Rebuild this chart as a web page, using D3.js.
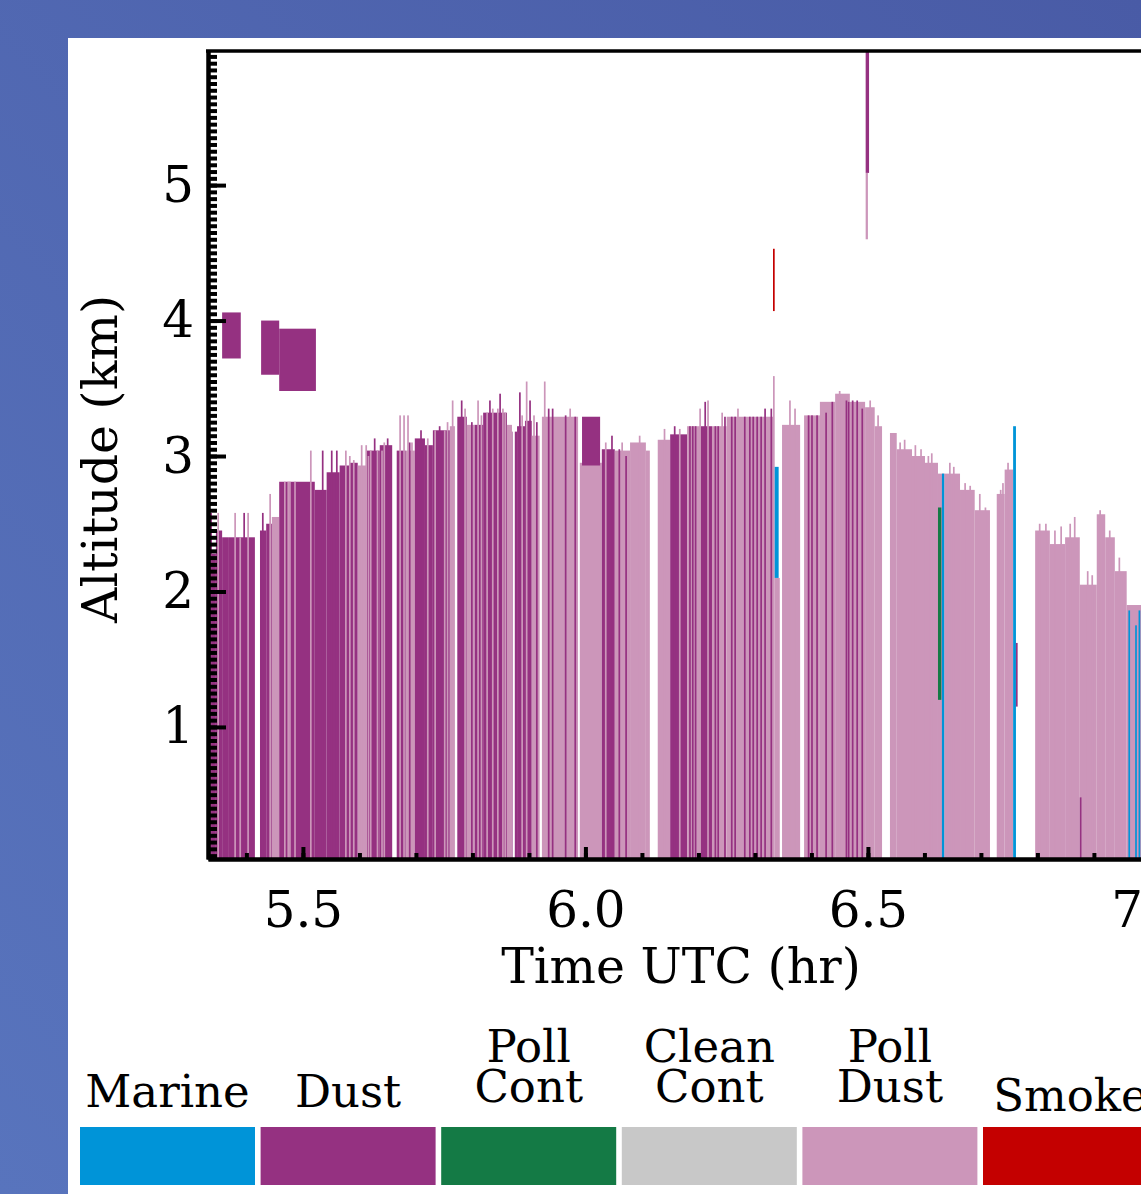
<!DOCTYPE html>
<html>
<head>
<meta charset="utf-8">
<script src="https://cdn.jsdelivr.net/npm/d3@7"></script>
<style>
  body { margin: 0; overflow: hidden; }
  text { font-family: "DejaVu Serif", serif; fill: #000; }
</style>
</head>
<body>
<div class="canva"></div>
<script>
// aerosol types, legend order
const typeNames = [["Marine"], ["Dust"], ["Poll", "Cont"], ["Clean", "Cont"], ["Poll", "Dust"], ["Smoke"]];
const typeColors = ["#0094d8", "#953181", "#147a45", "#c8c8c8", "#cc96ba", "#c40000"];

// ground-based columns: start/end time (hr UTC), layer top (km), type index
const colStart = [5.334,5.339,5.346,5.357,5.369,5.424,5.435,5.445,5.458,5.521,5.542,5.565,5.583,5.597,5.613,5.636,5.666,5.682,5.698,5.716,5.730,5.760,5.773,5.790,5.804,5.819,5.840,5.861,5.870,5.879,5.893,5.905,5.923,5.955,5.990,6.029,6.052,6.079,6.107,6.128,6.150,6.180,6.203,6.224,6.250,6.279,6.309,6.332,6.335,6.348,6.387,6.415,6.442,6.468,6.495,6.512,6.539,6.551,6.578,6.601,6.624,6.636,6.663,6.689,6.728,6.742,6.796,6.822,6.849,6.875,6.905,6.920,6.937,6.958];
const colEnd = [5.339,5.346,5.357,5.369,5.415,5.435,5.445,5.458,5.521,5.542,5.565,5.583,5.597,5.613,5.636,5.658,5.682,5.698,5.716,5.730,5.760,5.773,5.790,5.804,5.819,5.840,5.861,5.870,5.879,5.893,5.905,5.919,5.955,5.987,6.029,6.052,6.079,6.107,6.114,6.150,6.180,6.203,6.224,6.250,6.279,6.309,6.332,6.335,6.344,6.380,6.415,6.442,6.468,6.495,6.512,6.525,6.551,6.578,6.601,6.624,6.636,6.663,6.689,6.716,6.742,6.757,6.822,6.849,6.875,6.905,6.920,6.937,6.958,6.990];
const colTop = [2.58,2.28,2.45,2.40,2.40,2.45,2.50,2.55,2.81,2.75,2.88,2.93,2.95,2.93,3.04,3.08,3.04,3.04,3.13,3.08,3.19,3.22,3.29,3.23,3.23,3.32,3.32,3.23,3.18,3.22,3.26,3.15,3.29,3.29,2.95,3.05,3.04,3.10,3.04,3.12,3.16,3.22,3.22,3.22,3.29,3.29,3.29,3.59,2.10,3.23,3.30,3.40,3.46,3.40,3.36,3.22,3.17,3.05,3.00,2.95,2.87,2.87,2.75,2.60,2.72,2.90,2.45,2.35,2.40,2.05,2.57,2.40,2.15,1.90];
const colType = [1,1,1,1,1,1,1,4,1,1,1,1,1,4,1,1,1,4,1,1,1,4,1,4,1,1,1,4,1,1,1,4,4,4,4,1,4,4,4,4,1,4,1,4,4,4,4,4,4,4,4,4,4,4,4,4,4,4,4,4,4,4,4,4,4,4,4,4,4,4,4,4,4,4];

// single profiles (one lidar shot wide) from the ground
const streakTime = [5.350,5.380,5.389,5.396,5.403,5.429,5.442,5.468,5.474,5.477,5.486,5.514,5.535,5.551,5.560,5.576,5.583,5.590,5.604,5.612,5.616,5.620,5.627,5.632,5.640,5.644,5.650,5.672,5.679,5.686,5.689,5.693,5.709,5.721,5.734,5.742,5.751,5.756,5.765,5.781,5.787,5.799,5.810,5.816,5.826,5.831,5.836,5.845,5.849,5.854,5.858,5.884,5.888,5.896,5.902,5.909,5.914,5.928,5.935,5.942,5.965,5.973,5.982,6.036,6.047,6.060,6.065,6.072,6.096,6.140,6.158,6.167,6.185,6.190,6.195,6.203,6.212,6.217,6.230,6.235,6.242,6.247,6.259,6.265,6.270,6.282,6.291,6.297,6.304,6.311,6.318,6.329,6.362,6.371,6.395,6.401,6.410,6.426,6.437,6.450,6.462,6.466,6.473,6.481,6.490,6.504,6.518,6.545,6.557,6.565,6.584,6.594,6.607,6.613,6.645,6.652,6.672,6.681,6.698,6.708,6.735,6.739,6.748,6.804,6.815,6.831,6.842,6.858,6.866,6.889,6.897,6.911,6.916,6.928,6.945,6.952];
const streakTop = [2.58,2.58,2.40,2.58,2.58,2.58,2.72,2.81,2.81,2.81,2.81,3.04,3.04,3.04,3.04,3.04,3.00,2.97,3.08,3.08,3.00,3.04,3.13,3.04,3.04,3.10,3.13,3.30,3.30,3.30,3.10,3.10,3.19,3.13,3.19,3.22,3.19,3.25,3.41,3.41,3.35,3.25,3.41,3.30,3.32,3.41,3.35,3.35,3.46,3.35,3.32,3.47,3.30,3.55,3.41,3.30,3.25,3.55,3.35,3.35,3.30,3.35,3.29,3.10,3.15,3.05,3.10,3.00,3.15,3.20,3.22,3.20,3.22,3.22,3.22,3.35,3.40,3.41,3.22,3.22,3.32,3.29,3.29,3.29,3.35,3.29,3.29,3.29,3.29,3.29,3.35,3.35,3.41,3.35,3.30,3.30,3.30,3.32,3.40,3.48,3.41,3.40,3.41,3.41,3.35,3.41,3.30,3.17,3.10,3.12,3.08,3.05,3.00,3.02,2.95,2.92,2.80,2.78,2.72,2.62,2.75,2.80,2.95,2.50,2.50,2.45,2.48,2.50,2.55,2.15,2.12,2.60,2.50,2.45,2.25,2.10];
const streakType = [4,4,4,1,4,1,4,4,4,4,4,4,1,1,1,4,4,4,4,4,4,4,1,4,4,4,1,4,4,4,1,4,1,4,4,1,4,4,4,1,4,1,4,4,4,1,4,4,1,4,4,1,4,4,1,4,1,4,1,1,1,4,1,4,1,1,4,1,4,4,1,4,1,1,1,4,1,4,1,1,4,1,1,1,4,1,1,1,1,1,1,1,4,4,1,1,1,1,1,4,1,1,1,1,1,4,4,4,4,4,4,4,4,4,4,4,4,4,4,4,4,4,4,4,4,4,4,4,4,4,4,4,4,4,4,4];
const streakWidth = 0.003;

// profiles with no retrieval (left blank)
const gapTime = [5.771, 5.873];
const gapWidth = 0.004;

// elevated or partial layers: start/end time, base and top (km), type index
const layerStart = [5.357,5.426,5.458,5.994,6.332,6.335,6.496,6.496,6.624,6.631,6.757,6.762,6.875,6.961,6.973,6.979];
const layerEnd = [5.390,5.458,5.523,6.026,6.335,6.342,6.502,6.500,6.630,6.635,6.762,6.765,6.878,6.964,6.976,6.982];
const layerBase = [3.72,3.60,3.48,2.93,4.07,2.10,5.09,4.60,1.20,0.03,0.03,1.15,0.03,0.03,0.03,0.03];
const layerTop = [4.06,4.00,3.94,3.29,4.53,2.92,6.00,5.09,2.62,2.87,3.22,1.62,0.48,1.86,1.75,1.86];
const layerType = [1,1,1,1,5,0,1,4,2,0,0,1,1,0,0,0];

const xTickLabels = [5.5, 6.0, 6.5, 7.0];
const yTickLabels = [1, 2, 3, 4, 5];

const W = 1141, H = 1194;
const plotLeft = 208, plotTop = 51, plotBottom = 859;

const svg = d3.select(".canva").append("svg")
    .attr("width", W)
    .attr("height", H);

// blue slide background + white panel
const defs = svg.append("defs");
const grad = defs.append("linearGradient").attr("id", "bg")
    .attr("x1", "1").attr("y1", "0").attr("x2", "0").attr("y2", "1");
grad.append("stop").attr("offset", "0%").attr("stop-color", "#495ba6");
grad.append("stop").attr("offset", "100%").attr("stop-color", "#5874bd");
svg.append("rect").attr("width", W).attr("height", H).attr("fill", "url(#bg)");
svg.append("rect").attr("x", 68).attr("y", 38)
    .attr("width", W - 68).attr("height", H - 38).attr("fill", "#fff");

defs.append("clipPath").attr("id", "plotClip")
  .append("rect")
    .attr("x", plotLeft).attr("y", plotTop)
    .attr("width", W - plotLeft).attr("height", plotBottom - plotTop);

const x = d3.scaleLinear().domain([5.332, 7.6]).range([plotLeft, plotLeft + 2.268 * 565]);
const y = d3.scaleLinear().domain([0.025, 5.99]).range([plotBottom, plotTop]);

const plot = svg.append("g").attr("clip-path", "url(#plotClip)");

// columns
plot.selectAll("rect.col")
  .data(d3.range(colStart.length))
  .join("rect")
    .attr("class", "col")
    .attr("x", i => x(colStart[i]))
    .attr("width", i => x(colEnd[i]) - x(colStart[i]))
    .attr("y", i => y(colTop[i]))
    .attr("height", i => y(0) - y(colTop[i]))
    .attr("fill", i => typeColors[colType[i]]);

// thin profiles
plot.selectAll("rect.streak")
  .data(d3.range(streakTime.length))
  .join("rect")
    .attr("class", "streak")
    .attr("x", i => x(streakTime[i] - streakWidth / 2))
    .attr("width", x(5.5 + streakWidth) - x(5.5))
    .attr("y", i => y(streakTop[i]))
    .attr("height", i => y(0) - y(streakTop[i]))
    .attr("fill", i => typeColors[streakType[i]]);

// blank profiles
plot.selectAll("rect.gap")
  .data(gapTime)
  .join("rect")
    .attr("class", "gap")
    .attr("x", d => x(d - gapWidth / 2))
    .attr("width", x(5.5 + gapWidth) - x(5.5))
    .attr("y", plotTop)
    .attr("height", plotBottom - plotTop)
    .attr("fill", "#fff");

// layers aloft / overlays
plot.selectAll("rect.layer")
  .data(d3.range(layerStart.length))
  .join("rect")
    .attr("class", "layer")
    .attr("x", i => x(layerStart[i]))
    .attr("width", i => x(layerEnd[i]) - x(layerStart[i]))
    .attr("y", i => y(layerTop[i]))
    .attr("height", i => y(layerBase[i]) - y(layerTop[i]))
    .attr("fill", i => typeColors[layerType[i]]);

//axes
function styleAxis(g) {
  g.attr("font-family", "DejaVu Serif").attr("font-size", 50);
  g.select(".domain").attr("stroke-width", 4);
  g.selectAll(".tick line").attr("stroke-width", 4);
  g.selectAll(".tick text").attr("fill", "#000");
}

svg.append("g")
    .attr("transform", `translate(${plotLeft},0)`)
    .call(d3.axisLeft(y).tickValues(d3.range(0.05, 5.99, 0.05)).tickSize(-9).tickSizeOuter(0).tickFormat(""))
    .call(styleAxis);
svg.append("g")
    .attr("transform", `translate(${plotLeft},0)`)
    .call(d3.axisLeft(y).tickValues(yTickLabels).tickSize(-18).tickSizeOuter(0).tickPadding(14).tickFormat(d3.format("d")))
    .call(styleAxis);

svg.append("g")
    .attr("transform", `translate(0,${plotBottom})`)
    .call(d3.axisBottom(x).tickValues(d3.range(5.4, 7.5, 0.1)).tickSize(-6).tickSizeOuter(0).tickFormat(""))
    .call(styleAxis);
svg.append("g")
    .attr("transform", `translate(0,${plotBottom})`)
    .call(d3.axisBottom(x).tickValues(xTickLabels).tickSize(-12).tickSizeOuter(0).tickPadding(32).tickFormat(d3.format(".1f")))
    .call(styleAxis);

// top frame
svg.append("line")
    .attr("x1", plotLeft - 2).attr("x2", W)
    .attr("y1", plotTop).attr("y2", plotTop)
    .attr("stroke", "#000").attr("stroke-width", 3.5);

// axis titles
svg.append("text")
    .text("Time UTC (hr)")
    .attr("x", 681).attr("y", 983)
    .attr("text-anchor", "middle")
    .attr("font-size", 49);

svg.append("text")
    .text("Altitude (km)")
    .attr("transform", "translate(117,459) rotate(-90)")
    .attr("text-anchor", "middle")
    .attr("font-size", 49);

// legend
const legend = svg.append("g");
typeNames.forEach((lines, i) => {
  const lx = 80 + i * 180.6;
  legend.append("rect")
      .attr("x", lx).attr("y", 1127)
      .attr("width", 175).attr("height", 58)
      .attr("fill", typeColors[i]);
  const last = lines.length === 1 ? (i === 5 ? 1111 : 1107) : 1102;
  lines.forEach((s, j) => {
    legend.append("text")
        .text(s)
        .attr("x", lx + 87.5)
        .attr("y", last - (lines.length - 1 - j) * 40)
        .attr("text-anchor", "middle")
        .attr("font-size", 45);
  });
});
</script>
</body>
</html>
